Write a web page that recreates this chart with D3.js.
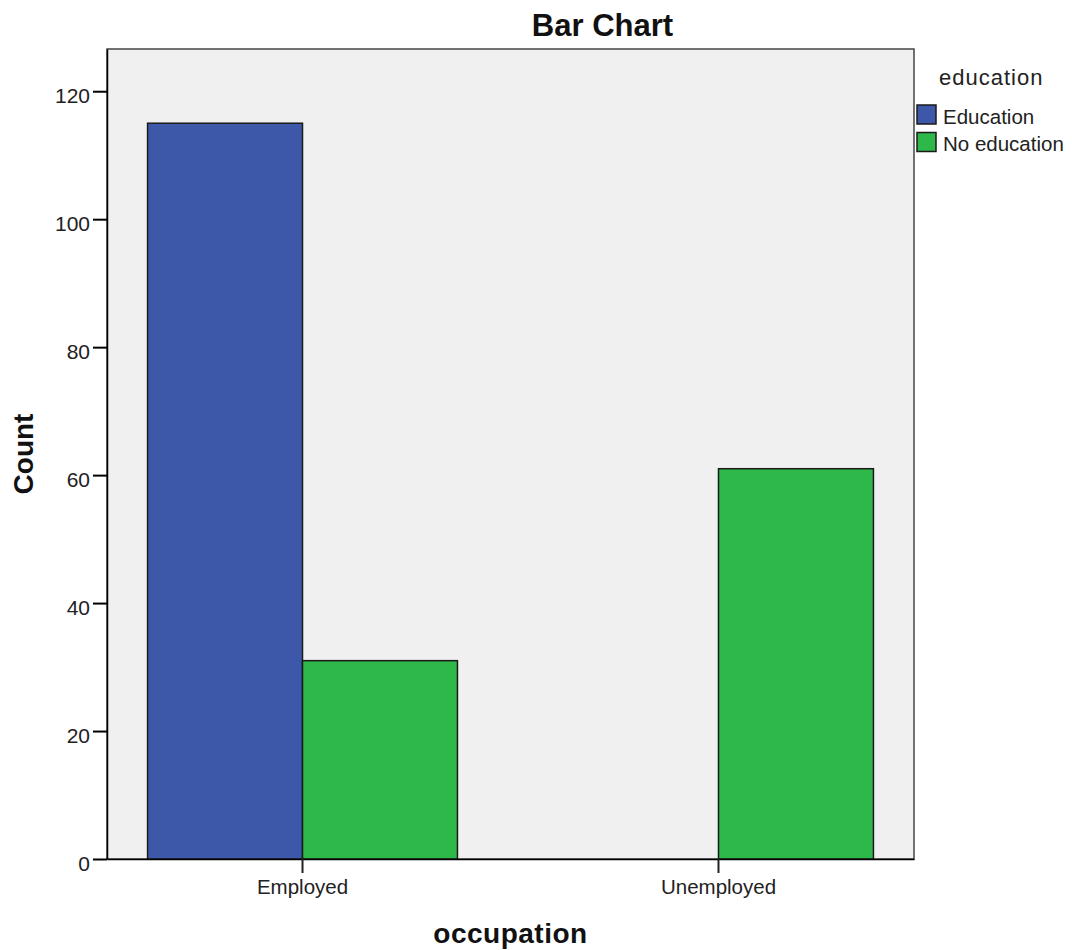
<!DOCTYPE html>
<html>
<head>
<meta charset="utf-8">
<script src="https://cdn.jsdelivr.net/npm/d3@7"></script>
<style>
  html, body { margin: 0; padding: 0; background: #fff; }
  svg { display: block; font-family: "Liberation Sans", Arial, sans-serif; }
</style>
</head>
<body>
<svg id="chart" width="1072" height="950"></svg>
<script>
const categories = ["Employed", "Unemployed"];
const seriesNames = ["Education", "No education"];
const educationCounts = [115, 0];
const noEducationCounts = [31, 61];
const yTicks = [0, 20, 40, 60, 80, 100, 120];
const colors = ["#3d58a9", "#2eb84a"];

const svg = d3.select("#chart");
const plot = { left: 107, right: 914, top: 49, bottom: 859 };

const x0 = d3.scaleBand().domain(categories)
  .range([plot.left, plot.right]).paddingInner(0.255).paddingOuter(0.0975);
const x1 = d3.scaleBand().domain(seriesNames).range([0, x0.bandwidth()]);
const y = d3.scaleLinear().domain([0, 126.6]).range([plot.bottom, plot.top]);

// plot background
svg.append("rect")
  .attr("x", plot.left).attr("y", plot.top)
  .attr("width", plot.right - plot.left).attr("height", plot.bottom - plot.top)
  .attr("fill", "#f0f0f0").attr("stroke", "#444").attr("stroke-width", 1.5);

// bars
const rows = categories.map((c, i) => ({
  cat: c,
  vals: [educationCounts[i], noEducationCounts[i]]
}));
const groups = svg.append("g").selectAll("g").data(rows).join("g")
  .attr("transform", d => `translate(${x0(d.cat)},0)`);
groups.selectAll("rect")
  .data(d => d.vals.map((v, j) => ({ s: seriesNames[j], v, j })).filter(e => e.v > 0))
  .join("rect")
  .attr("x", d => x1(d.s))
  .attr("y", d => y(d.v))
  .attr("width", x1.bandwidth())
  .attr("height", d => y(0) - y(d.v))
  .attr("fill", d => colors[d.j])
  .attr("stroke", "#1a1a1a").attr("stroke-width", 1.5);

// y axis
const yAxis = svg.append("g").attr("transform", `translate(${plot.left},0)`)
  .call(d3.axisLeft(y).tickValues(yTicks).tickSize(14).tickSizeOuter(0).tickPadding(3).tickFormat(d3.format("d")));
yAxis.select(".domain").attr("stroke", "#000").attr("stroke-width", 1.5);
yAxis.selectAll(".tick line").attr("stroke", "#000").attr("stroke-width", 2);
yAxis.selectAll(".tick text")
  .attr("font-size", 21).attr("fill", "#222").attr("dy", "11.5px")
  .attr("font-family", "Liberation Sans, Arial, sans-serif");

// x axis
const xAxis = svg.append("g").attr("transform", `translate(0,${plot.bottom})`)
  .call(d3.axisBottom(x0).tickSize(14).tickPadding(6).tickSizeOuter(0));
xAxis.select(".domain").attr("stroke", "#000").attr("stroke-width", 1.5);
xAxis.selectAll(".tick line").attr("stroke", "#222").attr("stroke-width", 2);
xAxis.selectAll(".tick text")
  .attr("font-size", 20.5).attr("fill", "#222").attr("dy", null).attr("y", 35)
  .attr("font-family", "Liberation Sans, Arial, sans-serif");

// title
svg.append("text").attr("x", 602.5).attr("y", 36)
  .attr("text-anchor", "middle").attr("font-weight", "bold").attr("font-size", 31)
  .attr("fill", "#111").text("Bar Chart");

// axis titles
svg.append("text").attr("x", (plot.left + plot.right) / 2).attr("y", 943)
  .attr("text-anchor", "middle").attr("font-weight", "bold").attr("font-size", 28)
  .attr("letter-spacing", 0.5).attr("fill", "#111").text("occupation");
svg.append("text").attr("transform", `translate(33,${(plot.top + plot.bottom) / 2}) rotate(-90)`)
  .attr("text-anchor", "middle").attr("font-weight", "bold").attr("font-size", 28)
  .attr("fill", "#111").text("Count");

// legend
const legend = svg.append("g");
legend.append("text").attr("x", 939).attr("y", 85)
  .attr("font-size", 22).attr("letter-spacing", 1).attr("fill", "#222").text("education");
const items = legend.selectAll("g.item").data(seriesNames).join("g").attr("class", "item")
  .attr("transform", (d, i) => `translate(917,${105 + i * 27.5})`);
items.append("rect").attr("width", 19).attr("height", 19)
  .attr("fill", (d, i) => colors[i]).attr("stroke", "#1a1a1a").attr("stroke-width", 1.5);
items.append("text").attr("x", 26).attr("y", 18.5)
  .attr("font-size", 20.5).attr("fill", "#222").text(d => d);
</script>
</body>
</html>
